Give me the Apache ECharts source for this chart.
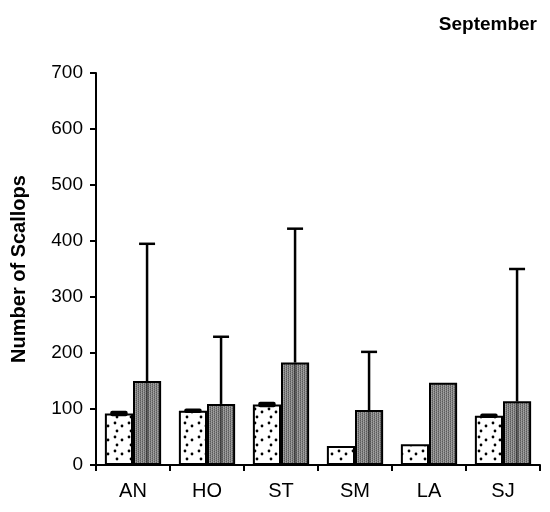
<!DOCTYPE html>
<html><head><meta charset="utf-8">
<script src="https://cdn.jsdelivr.net/npm/echarts@6/dist/echarts.min.js"></script>
<style>html,body{margin:0;padding:0;background:#fff}#c{width:550px;height:512px}</style>
</head><body><div id="c"></div>
<script>
const categories = ['AN','HO','ST','SM','LA','SJ'];
const stippleValues = [92, 97, 108, 34, 37, 88];
const stippleErr = [5, 4, 5, 0, 0, 4];
const darkValues = [150, 109, 183, 98, 147, 114];
const darkUpper = [395, 229, 422, 202, 147, 350];
const yTicks = [0,100,200,300,400,500,600,700];

function makePattern(kind){
  const c = document.createElement('canvas');
  if(kind==='dots'){
    c.width=14;c.height=14;const g=c.getContext('2d');
    g.fillStyle='#fff';g.fillRect(0,0,14,14);
    g.fillStyle='#000';
    g.beginPath();g.arc(3,3,1.4,0,Math.PI*2);g.fill();
    g.beginPath();g.arc(10,6,1.4,0,Math.PI*2);g.fill();
    g.beginPath();g.arc(5,11,1.4,0,Math.PI*2);g.fill();
  } else {
    c.width=4;c.height=4;const g=c.getContext('2d');
    const cols=['#5a5a5a','#a4a4a4','#777777','#8f8f8f'];
    for(let i=0;i<4;i++)for(let j=0;j<4;j++){g.fillStyle=cols[(i+j*2)%4];g.fillRect(i,j,1,1);}
  }
  return c;
}
const chart = echarts.init(document.getElementById('c'));
const GAP = 0.24;
function offsetFor(api, side){
  const band = api.size([1,0])[0];
  const bw = band*(1-GAP)/2;
  return {off: side*bw/2, bw: bw};
}
chart.setOption({
  animation:false,
  backgroundColor:'#fff',
  title:{text:'September',right:8,top:10,textStyle:{fontFamily:'Liberation Sans',fontSize:19,fontWeight:'bold',color:'#000'}},
  grid:{left:96,right:10,top:73,bottom:47},
  xAxis:{type:'category',data:categories,
    axisLine:{lineStyle:{color:'#000',width:2}},
    axisTick:{show:true,length:6,lineStyle:{color:'#000',width:2},alignWithLabel:false},
    axisLabel:{color:'#000',fontFamily:'Liberation Sans',fontSize:20,margin:16}},
  yAxis:{type:'value',min:0,max:700,interval:100,
    name:'Number of Scallops',nameLocation:'middle',nameGap:67,nameRotate:90,
    nameTextStyle:{fontFamily:'Liberation Sans',fontSize:20,fontWeight:'bold',color:'#000'},
    axisLine:{show:true,lineStyle:{color:'#000',width:2}},
    axisTick:{show:true,length:6,lineStyle:{color:'#000',width:2}},
    splitLine:{show:false},
    axisLabel:{color:'#000',fontFamily:'Liberation Sans',fontSize:19,margin:13,
      formatter:v=>yTicks.includes(v)?String(v):''}},
  series:[
    {type:'bar',data:stippleValues,barGap:'0%',barCategoryGap:(GAP*100)+'%',
      itemStyle:{color:{image:makePattern('dots'),repeat:'repeat'},borderColor:'#000',borderWidth:2}},
    {type:'bar',data:darkValues,
      itemStyle:{color:{image:makePattern('dark'),repeat:'repeat'},borderColor:'#000',borderWidth:2}},
    {type:'custom',data:categories.map((c,i)=>[i,darkValues[i],darkUpper[i]]),z:5,
      renderItem:function(params,api){
        const i=api.value(0),v=api.value(1),u=api.value(2);
        if(u<=v) return null;
        const o=offsetFor(api,1);
        const p0=api.coord([i,0]),pv=api.coord([i,v]),pu=api.coord([i,u]);
        const x=p0[0]+o.off;
        return {type:'group',children:[
          {type:'line',shape:{x1:x,y1:p0[1],x2:x,y2:pv[1]},style:{stroke:'rgba(0,0,0,0.4)',lineWidth:2.5}},
          {type:'line',shape:{x1:x,y1:pv[1],x2:x,y2:pu[1]},style:{stroke:'#000',lineWidth:2.5}},
          {type:'line',shape:{x1:x-8,y1:pu[1],x2:x+8,y2:pu[1]},style:{stroke:'#000',lineWidth:2.5}}
        ]};
      }},
    {type:'custom',data:categories.map((c,i)=>[i,stippleValues[i],stippleErr[i]]),z:5,
      renderItem:function(params,api){
        const i=api.value(0),v=api.value(1),e=api.value(2);
        if(e<=0) return null;
        const o=offsetFor(api,-1);
        const p0=api.coord([i,v+e]),p1=api.coord([i,v-e]);
        const x=p0[0]+o.off, w=o.bw*0.62;
        return {type:'rect',shape:{x:x-w/2,y:p0[1],width:w,height:Math.max(3,p1[1]-p0[1]),r:2},style:{fill:'#000'}};
      }}
  ]
});
</script></body></html>
